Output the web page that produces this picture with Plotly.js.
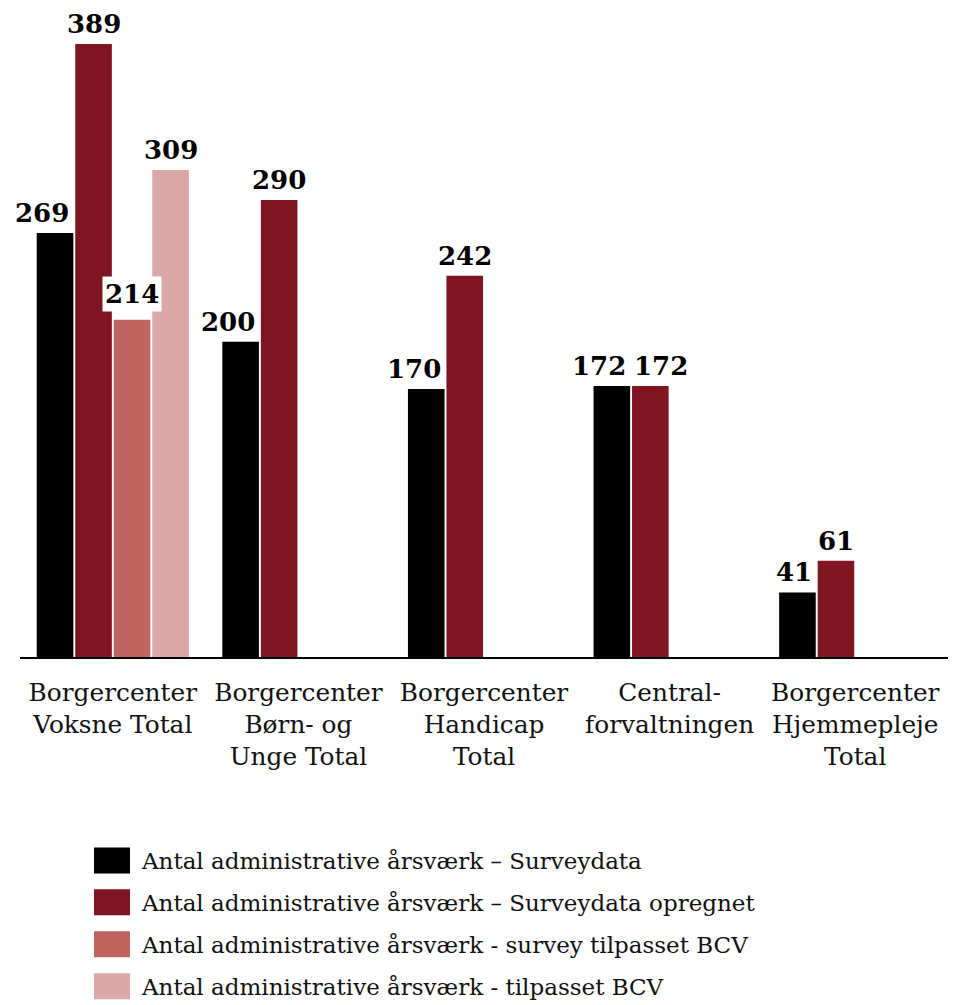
<!DOCTYPE html>
<html>
<head>
<meta charset="utf-8">
<script src="https://cdn.plot.ly/plotly-3.0.1.min.js"></script>
<style>html,body{margin:0;padding:0;background:#fff}#chart{width:959px;height:1005px}</style>
</head>
<body>
<div id="chart"></div>
<script>
const categories = [
  "Borgercenter<br>Voksne Total",
  "Borgercenter<br>Børn- og<br>Unge Total",
  "Borgercenter<br>Handicap<br>Total",
  "Central-<br>forvaltningen",
  "Borgercenter<br>Hjemmepleje<br>Total"
];
const seriesNames = [
  "Antal administrative årsværk – Surveydata",
  "Antal administrative årsværk – Surveydata opregnet",
  "Antal administrative årsværk - survey tilpasset BCV",
  "Antal administrative årsværk - tilpasset BCV"
];
const surveydata = [269, 200, 170, 172, 41];
const surveydataOpregnet = [389, 290, 242, 172, 61];
const surveyTilpassetBCV = [214, null, null, null, null];
const tilpassetBCV = [309, null, null, null, null];
const colors = ["#000000", "#7f1520", "#c06462", "#dba8a8"];

const allSeries = [surveydata, surveydataOpregnet, surveyTilpassetBCV, tilpassetBCV];
const BARGAP = 0.17, BARGROUPGAP = 0.05;
const SERIF = "DejaVu Serif";
const labelFont = {family: SERIF, size: 26, color: "#000", weight: "bold"};

const plotTop = 20, plotBottom = 657;
const pxPerUnit = (657 - 44) / 389;
const yMax = (plotBottom - plotTop) / pxPerUnit;

const traces = allSeries.map((vals, i) => ({
  type: "bar",
  name: seriesNames[i],
  x: categories,
  y: vals,
  marker: {color: colors[i]},
  legendgroup: "g" + i,
  cliponaxis: false,
  hoverinfo: "none"
}));

// Value labels, positioned on the bars via the bar layout constants
const nS = allSeries.length;
const groupW = 1 - BARGAP;
const slot = groupW / nS;
const halfBar = slot * (1 - BARGROUPGAP) / 2;
const annotations = [];
allSeries.forEach((vals, si) => {
  vals.forEach((v, ci) => {
    if (v == null) return;
    const center = ci - groupW / 2 + (si + 0.5) * slot;
    const a = {
      xref: "x", yref: "y", y: v, yanchor: "bottom",
      text: String(v), showarrow: false, font: labelFont,
      borderpad: 0, yshift: 4
    };
    if (si === 0) {
      a.x = center + halfBar; a.xanchor = "right"; a.xshift = -3;
    } else {
      a.x = center; a.xanchor = "center";
      if (si === 1 && surveydata[ci] != null &&
          Math.abs(surveydata[ci] - v) * pxPerUnit < 30) a.xshift = 11;
    }
    if (si === 2) { a.bgcolor = "#ffffff"; a.borderpad = 2; a.yshift = 8; }
    annotations.push(a);
  });
});

const layout = {
  width: 959, height: 1005,
  margin: {l: 20, r: 11, t: plotTop, b: 1005 - plotBottom, autoexpand: false},
  paper_bgcolor: "#fff", plot_bgcolor: "#fff",
  barmode: "group",
  bargap: BARGAP, bargroupgap: BARGROUPGAP,
  showlegend: true,
  legend: {
    orientation: "v",
    x: 0.0668, xanchor: "left",
    y: -0.2857, yanchor: "top",
    font: {family: SERIF, size: 23, color: "#111"},
    tracegroupgap: 9,
    traceorder: "grouped",
    itemwidth: 50
  },
  xaxis: {
    type: "category",
    range: [-0.5, categories.length - 0.5], autorange: false,
    showline: true, linecolor: "#000", linewidth: 2,
    ticks: "", showgrid: false, zeroline: false,
    tickfont: {family: SERIF, size: 24.8, color: "#111"},
    tickangle: 0, ticklabelstandoff: 12,
    automargin: false
  },
  yaxis: {
    range: [0, yMax], autorange: false,
    showticklabels: false, showgrid: false, zeroline: false, showline: false,
    ticks: "", fixedrange: true, automargin: false
  },
  annotations: annotations,
  font: {family: SERIF}
};

Plotly.newPlot("chart", traces, layout, {displayModeBar: false, staticPlot: true}).then(gd => {
  // enlarge the legend swatches to match the reference's wide colour boxes
  gd.querySelectorAll(".legend .legendpoints path").forEach(p => p.setAttribute("d", "M18,13H-18V-13H18Z"));
});
</script>
</body>
</html>
